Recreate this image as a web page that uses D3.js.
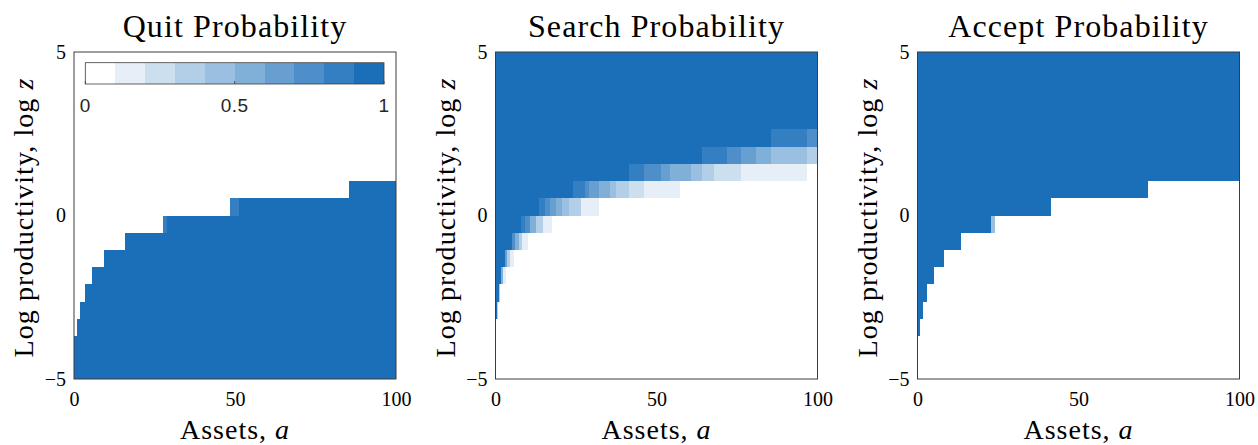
<!DOCTYPE html>
<html>
<head>
<meta charset="utf-8">
<script src="https://cdn.jsdelivr.net/npm/d3@7/dist/d3.min.js"></script>
<style>
  body { margin: 0; background: #fff; }
  .serif { font-family: "Liberation Serif", "Times New Roman", serif; fill: #000; }
  .sans { font-family: "Liberation Sans", Arial, sans-serif; fill: #262626; }
</style>
</head>
<body>
<svg id="chart" width="1258" height="445"></svg>
<script>
// productivity grid (log z), 20 points from -5 to 5
var zCenters = [-5, -4.474, -3.947, -3.421, -2.895, -2.368, -1.842, -1.316, -0.789, -0.263,
                0.263, 0.789, 1.316, 1.842, 2.368, 2.895, 3.421, 3.947, 4.474, 5];

var titles = ["Quit Probability", "Search Probability", "Accept Probability"];
var xTicks = [0, 50, 100];
var yTicks = [-5, 0, 5];
var cbTicks = [0, 0.5, 1];

// cells: [row in zCenters, asset from, asset to, probability]
var quitCells = [
  [0, 0, 100, 1], [1, 0, 100, 1], [2, 0.1, 100, 1], [3, 1.0, 100, 1],
  [4, 1.95, 100, 1], [5, 3.4, 100, 1], [6, 5.6, 100, 1], [7, 9.3, 100, 1],
  [8, 15.8, 100, 1],
  [9, 27.6, 28.8, 0.85], [9, 28.8, 100, 1],
  [10, 48.4, 51.1, 0.85], [10, 51.1, 100, 1],
  [11, 85.5, 100, 1]
];

var searchCells = [
  [19, 0, 100, 1], [18, 0, 100, 1], [17, 0, 100, 1], [16, 0, 100, 1], [15, 0, 100, 1],
  [14, 0, 85.7, 1], [14, 85.7, 96.8, 0.85], [14, 96.8, 100, 0.75],
  [13, 0, 64.1, 1], [13, 64.1, 71.9, 0.85], [13, 71.9, 76.2, 0.75], [13, 76.2, 80.8, 0.65],
  [13, 80.8, 85.7, 0.55], [13, 85.7, 96.8, 0.45], [13, 96.8, 100, 0.35],
  [12, 0, 41.4, 1], [12, 41.4, 46.1, 0.85], [12, 46.1, 51.4, 0.75], [12, 51.4, 54.2, 0.65],
  [12, 54.2, 60.7, 0.55], [12, 60.7, 64.1, 0.45], [12, 64.1, 67.9, 0.35], [12, 67.9, 76.2, 0.25],
  [12, 76.2, 96.8, 0.15],
  [11, 0, 24.0, 1], [11, 24.0, 27.7, 0.85], [11, 27.7, 29.1, 0.75], [11, 29.1, 32.2, 0.65],
  [11, 32.2, 35.5, 0.55], [11, 35.5, 37.4, 0.45], [11, 37.4, 41.4, 0.35], [11, 41.4, 46.1, 0.25],
  [11, 46.1, 57.3, 0.15],
  [10, 0, 13.4, 1], [10, 13.4, 15.3, 0.85], [10, 15.3, 16.8, 0.75], [10, 16.8, 18.9, 0.65],
  [10, 18.9, 20.8, 0.55], [10, 20.8, 22.8, 0.45], [10, 22.8, 26.4, 0.35], [10, 26.4, 32.2, 0.15],
  [9, 0, 7.9, 1], [9, 7.9, 9.3, 0.85], [9, 9.3, 10.8, 0.7], [9, 10.8, 12.7, 0.55],
  [9, 12.7, 14.6, 0.35], [9, 14.6, 17.4, 0.15],
  [8, 0, 5.0, 1], [8, 5.0, 6.1, 0.75], [8, 6.1, 7.2, 0.55], [8, 7.2, 8.2, 0.35], [8, 8.2, 10.0, 0.15],
  [7, 0, 3.0, 1], [7, 3.0, 3.7, 0.65], [7, 3.7, 4.4, 0.35], [7, 4.4, 5.7, 0.15],
  [6, 0, 1.8, 1], [6, 1.8, 2.3, 0.55], [6, 2.3, 3.3, 0.15],
  [5, 0, 1.0, 1], [5, 1.0, 1.5, 0.3],
  [4, 0, 0.55, 1], [4, 0.55, 0.8, 0.35]
];

var acceptCells = [
  [19, 0, 100, 1], [18, 0, 100, 1], [17, 0, 100, 1], [16, 0, 100, 1],
  [15, 0, 100, 1], [14, 0, 100, 1], [13, 0, 100, 1], [12, 0, 100, 1],
  [11, 0, 71.6, 1], [10, 0, 41.4, 1],
  [9, 0, 22.9, 1], [9, 22.9, 24.0, 0.45],
  [8, 0, 13.5, 1], [7, 0, 8.3, 1], [6, 0, 5.2, 1], [5, 0, 3.1, 1],
  [4, 0, 1.65, 1], [3, 0, 0.8, 1]
];

var panelCells = [quitCells, searchCells, acceptCells];
var panelLeft = [74, 495.5, 917.5];

var svg = d3.select("#chart");
var plotW = 322, plotH = 327, plotTop = 52;

var x = d3.scaleLinear().domain([0, 100]).range([0, plotW]);
var y = d3.scaleLinear().domain([-5, 5]).range([plotH, 0]);
var dz = zCenters[1] - zCenters[0];

// 10 step colormap, white to blue
var blue = d3.interpolateRgb("#ffffff", "#1b6fb9");
var levels = d3.range(10).map(function(k) { return blue(k / 9); });
var color = d3.scaleQuantize().domain([0, 1]).range(levels);

svg.append("defs").append("clipPath")
  .attr("id", "plotclip")
  .append("rect")
    .attr("width", plotW)
    .attr("height", plotH);

panelCells.forEach(function(cells, i) {
  var g = svg.append("g")
    .attr("transform", "translate(" + panelLeft[i] + "," + plotTop + ")");

  g.append("g")
    .attr("clip-path", "url(#plotclip)")
    .selectAll("rect")
    .data(cells)
    .enter().append("rect")
      .attr("shape-rendering", "crispEdges")
      .attr("x", function(d) { return x(d[1]); })
      .attr("y", function(d) { return y(zCenters[d[0]] + dz / 2); })
      .attr("width", function(d) { return x(d[2]) - x(d[1]); })
      .attr("height", function(d) { return y(zCenters[d[0]] - dz / 2) - y(zCenters[d[0]] + dz / 2); })
      .attr("fill", function(d) { return color(d[3]); });

  g.append("rect")
    .attr("width", plotW)
    .attr("height", plotH)
    .attr("fill", "none")
    .attr("stroke", "#3c3c3c")
    .attr("stroke-width", 1);

  var xAxis = g.append("g")
    .attr("transform", "translate(0," + plotH + ")")
    .call(d3.axisBottom(x).tickValues(xTicks).tickSize(0).tickPadding(13));
  xAxis.select(".domain").remove();
  xAxis.selectAll("text")
    .attr("class", "serif")
    .attr("font-size", 20);

  var yAxis = g.append("g")
    .call(d3.axisLeft(y).tickValues(yTicks).tickSize(0).tickPadding(8));
  yAxis.select(".domain").remove();
  yAxis.selectAll("text")
    .attr("class", "serif")
    .attr("font-size", 20);

  g.append("text")
    .attr("class", "serif")
    .attr("x", plotW / 2)
    .attr("y", -15)
    .attr("text-anchor", "middle")
    .attr("font-size", 32)
    .attr("letter-spacing", 1.1)
    .text(titles[i]);

  var xl = g.append("text")
    .attr("class", "serif")
    .attr("x", plotW / 2)
    .attr("y", 387)
    .attr("text-anchor", "middle")
    .attr("font-size", 28)
    .attr("letter-spacing", 1)
    .text("Assets, ");
  xl.append("tspan").attr("font-style", "italic").text("a");

  var yl = g.append("text")
    .attr("class", "serif")
    .attr("transform", "translate(-41," + (plotH / 2 + 2) + ") rotate(-90)")
    .attr("text-anchor", "middle")
    .attr("font-size", 28)
    .attr("letter-spacing", 1.1)
    .text("Log productivity, log ");
  yl.append("tspan").attr("font-style", "italic").text("z");

  // colorbar sits inside the first panel
  if (i == 0) {
    var cbX = d3.scaleLinear().domain([0, 1]).range([11.3, 310]);
    var cbTop = 10.7, cbH = 21.3;
    var cb = g.append("g");
    cb.selectAll("rect.lv")
      .data(levels)
      .enter().append("rect")
        .attr("class", "lv")
        .attr("shape-rendering", "crispEdges")
        .attr("x", function(d, k) { return cbX(k / 10); })
        .attr("y", cbTop)
        .attr("width", cbX(0.1) - cbX(0))
        .attr("height", cbH)
        .attr("fill", function(d) { return d; });
    cb.append("rect")
      .attr("x", cbX(0))
      .attr("y", cbTop)
      .attr("width", cbX(1) - cbX(0))
      .attr("height", cbH)
      .attr("fill", "none")
      .attr("stroke", "#3c3c3c")
      .attr("stroke-width", 0.8);
    cb.selectAll("line.tk")
      .data(cbTicks)
      .enter().append("line")
        .attr("class", "tk")
        .attr("x1", function(d) { return cbX(d); })
        .attr("x2", function(d) { return cbX(d); })
        .attr("y1", cbTop + cbH)
        .attr("y2", cbTop + cbH - 3)
        .attr("stroke", "#3c3c3c")
        .attr("stroke-width", 0.8);
    cb.selectAll("text")
      .data(cbTicks)
      .enter().append("text")
        .attr("class", "sans")
        .attr("x", function(d) { return cbX(d); })
        .attr("y", 59.7)
        .attr("text-anchor", "middle")
        .attr("font-size", 19)
        .attr("letter-spacing", 0.5)
        .text(function(d) { return d; });
  }
});
</script>
</body>
</html>
